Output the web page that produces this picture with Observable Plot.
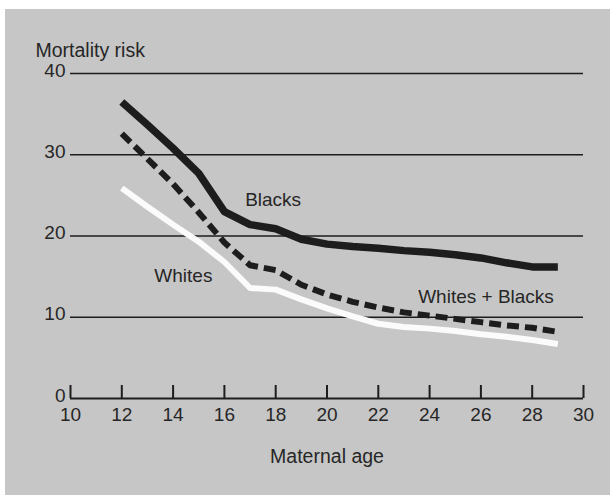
<!DOCTYPE html>
<html>
<head>
<meta charset="utf-8">
<script src="https://cdn.jsdelivr.net/npm/d3@7"></script>
<script src="https://cdn.jsdelivr.net/npm/@observablehq/plot@0.6"></script>
<style>
  html, body { margin: 0; padding: 0; background: #ffffff; }
  #wrap { position: relative; width: 610px; height: 495px; overflow: hidden; }
  #paper { position: absolute; left: 5px; top: 9px; right: 0; bottom: 0; background: #c6c6c6; }
  #chart { position: absolute; left: 0; top: 0; }
</style>
</head>
<body>
<div id="wrap"><div id="paper"></div><div id="chart"></div></div>
<script>
const ages = [12, 13, 14, 15, 16, 17, 18, 19, 20, 21, 22, 23, 24, 25, 26, 27, 28, 29];
const blacks = [36.5, 33.7, 30.8, 27.7, 23.0, 21.4, 20.9, 19.6, 19.0, 18.7, 18.5, 18.2, 18.0, 17.7, 17.3, 16.7, 16.2, 16.2];
const whitesBlacks = [32.6, 29.5, 26.4, 22.9, 19.2, 16.4, 15.8, 14.0, 12.8, 11.9, 11.2, 10.6, 10.2, 9.8, 9.4, 9.0, 8.7, 8.2];
const whites = [25.9, 23.6, 21.4, 19.3, 16.8, 13.6, 13.4, 12.2, 11.1, 10.1, 9.2, 8.8, 8.6, 8.3, 7.9, 7.6, 7.2, 6.7];

const xTicks = [10, 12, 14, 16, 18, 20, 22, 24, 26, 28, 30];
const yTicks = [0, 10, 20, 30, 40];
const gridValues = [10, 20, 30, 40];

const labelTexts = ["Blacks", "Whites", "Whites + Blacks"];
const labelAges = [17.9, 14.4, 26.2];
const labelRisks = [24.4, 15.1, 12.5];

const yTitle = "Mortality risk";
const xTitle = "Maternal age";

const rows = (vals) => ages.map((a, i) => ({age: a, risk: vals[i]}));
const labels = labelTexts.map((t, i) => ({text: t, age: labelAges[i], risk: labelRisks[i]}));

const ink = "#1d1d1d";
const textInk = "#262626";

const chart = Plot.plot({
  width: 610,
  height: 495,
  marginLeft: 70,
  marginRight: 27,
  marginTop: 73,
  marginBottom: 97,
  x: {domain: [10, 30]},
  y: {domain: [0, 40]},
  style: {background: "transparent", fontFamily: "'Liberation Sans', Arial, Helvetica, sans-serif", color: textInk},
  marks: [
    Plot.ruleY(gridValues, {stroke: ink, strokeWidth: 1.6}),
    Plot.ruleY([0], {stroke: ink, strokeWidth: 2.2}),
    Plot.ruleX(xTicks, {y1: 0, y2: 1.6, stroke: ink, strokeWidth: 2}),
    Plot.axisY({ticks: yTicks, tickSize: 0, tickPadding: 5, fontSize: 19, dy: -3, label: null}),
    Plot.axisX({ticks: xTicks, tickSize: 0, tickPadding: 9, fontSize: 19, label: null}),
    Plot.line(rows(whites), {x: "age", y: "risk", stroke: "#fbfbfb", strokeWidth: 6, strokeLinejoin: "round", strokeLinecap: "butt"}),
    Plot.line(rows(whitesBlacks), {x: "age", y: "risk", stroke: ink, strokeWidth: 6, strokeDasharray: "12,6", strokeLinejoin: "round", strokeLinecap: "butt"}),
    Plot.line(rows(blacks), {x: "age", y: "risk", stroke: ink, strokeWidth: 7.5, strokeLinejoin: "round", strokeLinecap: "butt"}),
    Plot.text(labels, {x: "age", y: "risk", text: "text", fontSize: 19, fill: textInk}),
    Plot.text([yTitle], {text: d => d, frameAnchor: "top-left", textAnchor: "start", dx: -35, dy: -30, fontSize: 19.5, fill: textInk}),
    Plot.text([xTitle], {text: d => d, frameAnchor: "bottom", dy: 64, fontSize: 19.5, fill: textInk})
  ]
});
document.getElementById("chart").appendChild(chart);
</script>
</body>
</html>
